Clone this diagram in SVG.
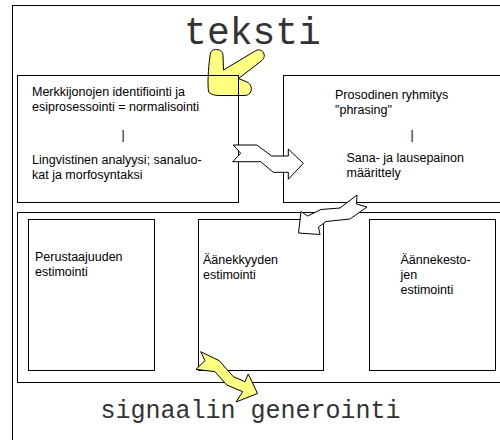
<svg xmlns="http://www.w3.org/2000/svg" width="500" height="440" viewBox="0 0 500 440">
  <style>
    .box { fill: none; stroke: #000; stroke-width: 1; }
    .lbl { font-family: "Liberation Sans", Arial, sans-serif; font-size: 12.5px; fill: #000; }
    .sep { opacity: 0.99; }
    .mono { font-family: "Liberation Mono", "Courier New", monospace; fill: #333; text-anchor: middle; }
    .yellow { fill: #ffff80; stroke: #000; stroke-width: 1; stroke-linejoin: round; }
    .white { fill: #fff; stroke: #000; stroke-width: 1; stroke-linejoin: miter; }
  </style>
  <rect width="500" height="440" fill="#fff"/>

  <!-- outer frame -->
  <rect id="frame" class="box" x="12.5" y="5.5" width="500" height="450"/>

  <text id="title" class="mono" x="252.5" y="44" font-size="38">teksti</text>

  <!-- input arrow from the text into the first stage (lies under the box outlines) -->
  <g id="arrow-in">
    <path class="yellow" d="M 210,56 C 210,50.5 213.5,49.5 216.5,49.5 C 220.5,49.5 223,52 223,55.5 L 223.5,70 L 256,50.5 C 259,49 263,50 264,54 C 265,57 263,60 260,62 L 238.5,78.5 L 247,82 C 251,84 252,88 251,91 C 250,94 248,95.5 244,95.5 L 220,95.5 C 214,95.5 209,94 208.5,91 C 207.5,85 208,70 210,56 Z"/>
  </g>

  <g id="text-analysis">
    <rect class="box" x="17.5" y="75.5" width="221" height="127"/>
    <text class="lbl" x="32" y="96">Merkkijonojen identifiointi ja</text>
    <text class="lbl" x="32" y="110.5">esiprosessointi = normalisointi</text>
    <text class="lbl sep" x="121.5" y="138.5">|</text>
    <text class="lbl" x="32" y="164">Lingvistinen analyysi; sanaluo-</text>
    <text class="lbl" x="32" y="179">kat ja morfosyntaksi</text>
  </g>

  <g id="prosody">
    <rect class="box" x="283.5" y="75.5" width="230" height="127"/>
    <text class="lbl" x="335" y="99">Prosodinen ryhmitys</text>
    <text class="lbl" x="335" y="114">"phrasing"</text>
    <text class="lbl sep" x="410.5" y="138.5">|</text>
    <text class="lbl" x="346.5" y="161.5">Sana- ja lausepainon</text>
    <text class="lbl" x="346.5" y="176.5">määrittely</text>
  </g>

  <g id="estimation">
    <rect class="box" x="17.5" y="212.5" width="500" height="170"/>
    <g id="f0">
      <rect class="box" x="28.5" y="219.5" width="126" height="151"/>
      <text class="lbl" x="35" y="261">Perustaajuuden</text>
      <text class="lbl" x="35" y="276">estimointi</text>
    </g>
    <g id="loudness">
      <rect class="box" x="198.5" y="219.5" width="125" height="151"/>
      <text class="lbl" x="203" y="263.5">Äänekkyyden</text>
      <text class="lbl" x="203" y="278.5">estimointi</text>
    </g>
    <g id="duration">
      <rect class="box" x="369.5" y="219.5" width="126" height="151"/>
      <text class="lbl" x="400.5" y="264">Äännekesto-</text>
      <text class="lbl" x="400.5" y="279">jen</text>
      <text class="lbl" x="400.5" y="294">estimointi</text>
    </g>
  </g>

  <text id="output" class="mono" x="250.5" y="418" font-size="25">signaalin generointi</text>

  <!-- flow arrows between stages -->
  <g id="connectors">
    <path class="white" d="M 233.3,145 L 256.7,145 L 271.7,156 L 288.3,156 L 288.3,149 L 303.3,163.3 L 288.3,179.3 L 288.3,172.3 L 273.3,172.3 L 260.7,161.7 L 232.7,161.7 L 240.7,153.3 Z"/>
    <path class="white" d="M 357,195 L 340,208 L 321,209.5 L 307.5,216 L 301,211.5 L 298.5,233 L 320,234.5 L 318.5,227 L 326,221.5 L 350,219 L 367,207 L 356.5,204 Z"/>
    <path class="yellow" stroke-linejoin="miter" d="M 200.7,351.7 L 219.3,360.7 L 233.3,376.7 L 245,381.7 L 248.3,374 L 257.5,393.5 L 236,402 L 242.7,391.7 L 226.7,385 L 215,371.7 L 196,369.3 L 205,360.7 Z"/>
  </g>
</svg>
